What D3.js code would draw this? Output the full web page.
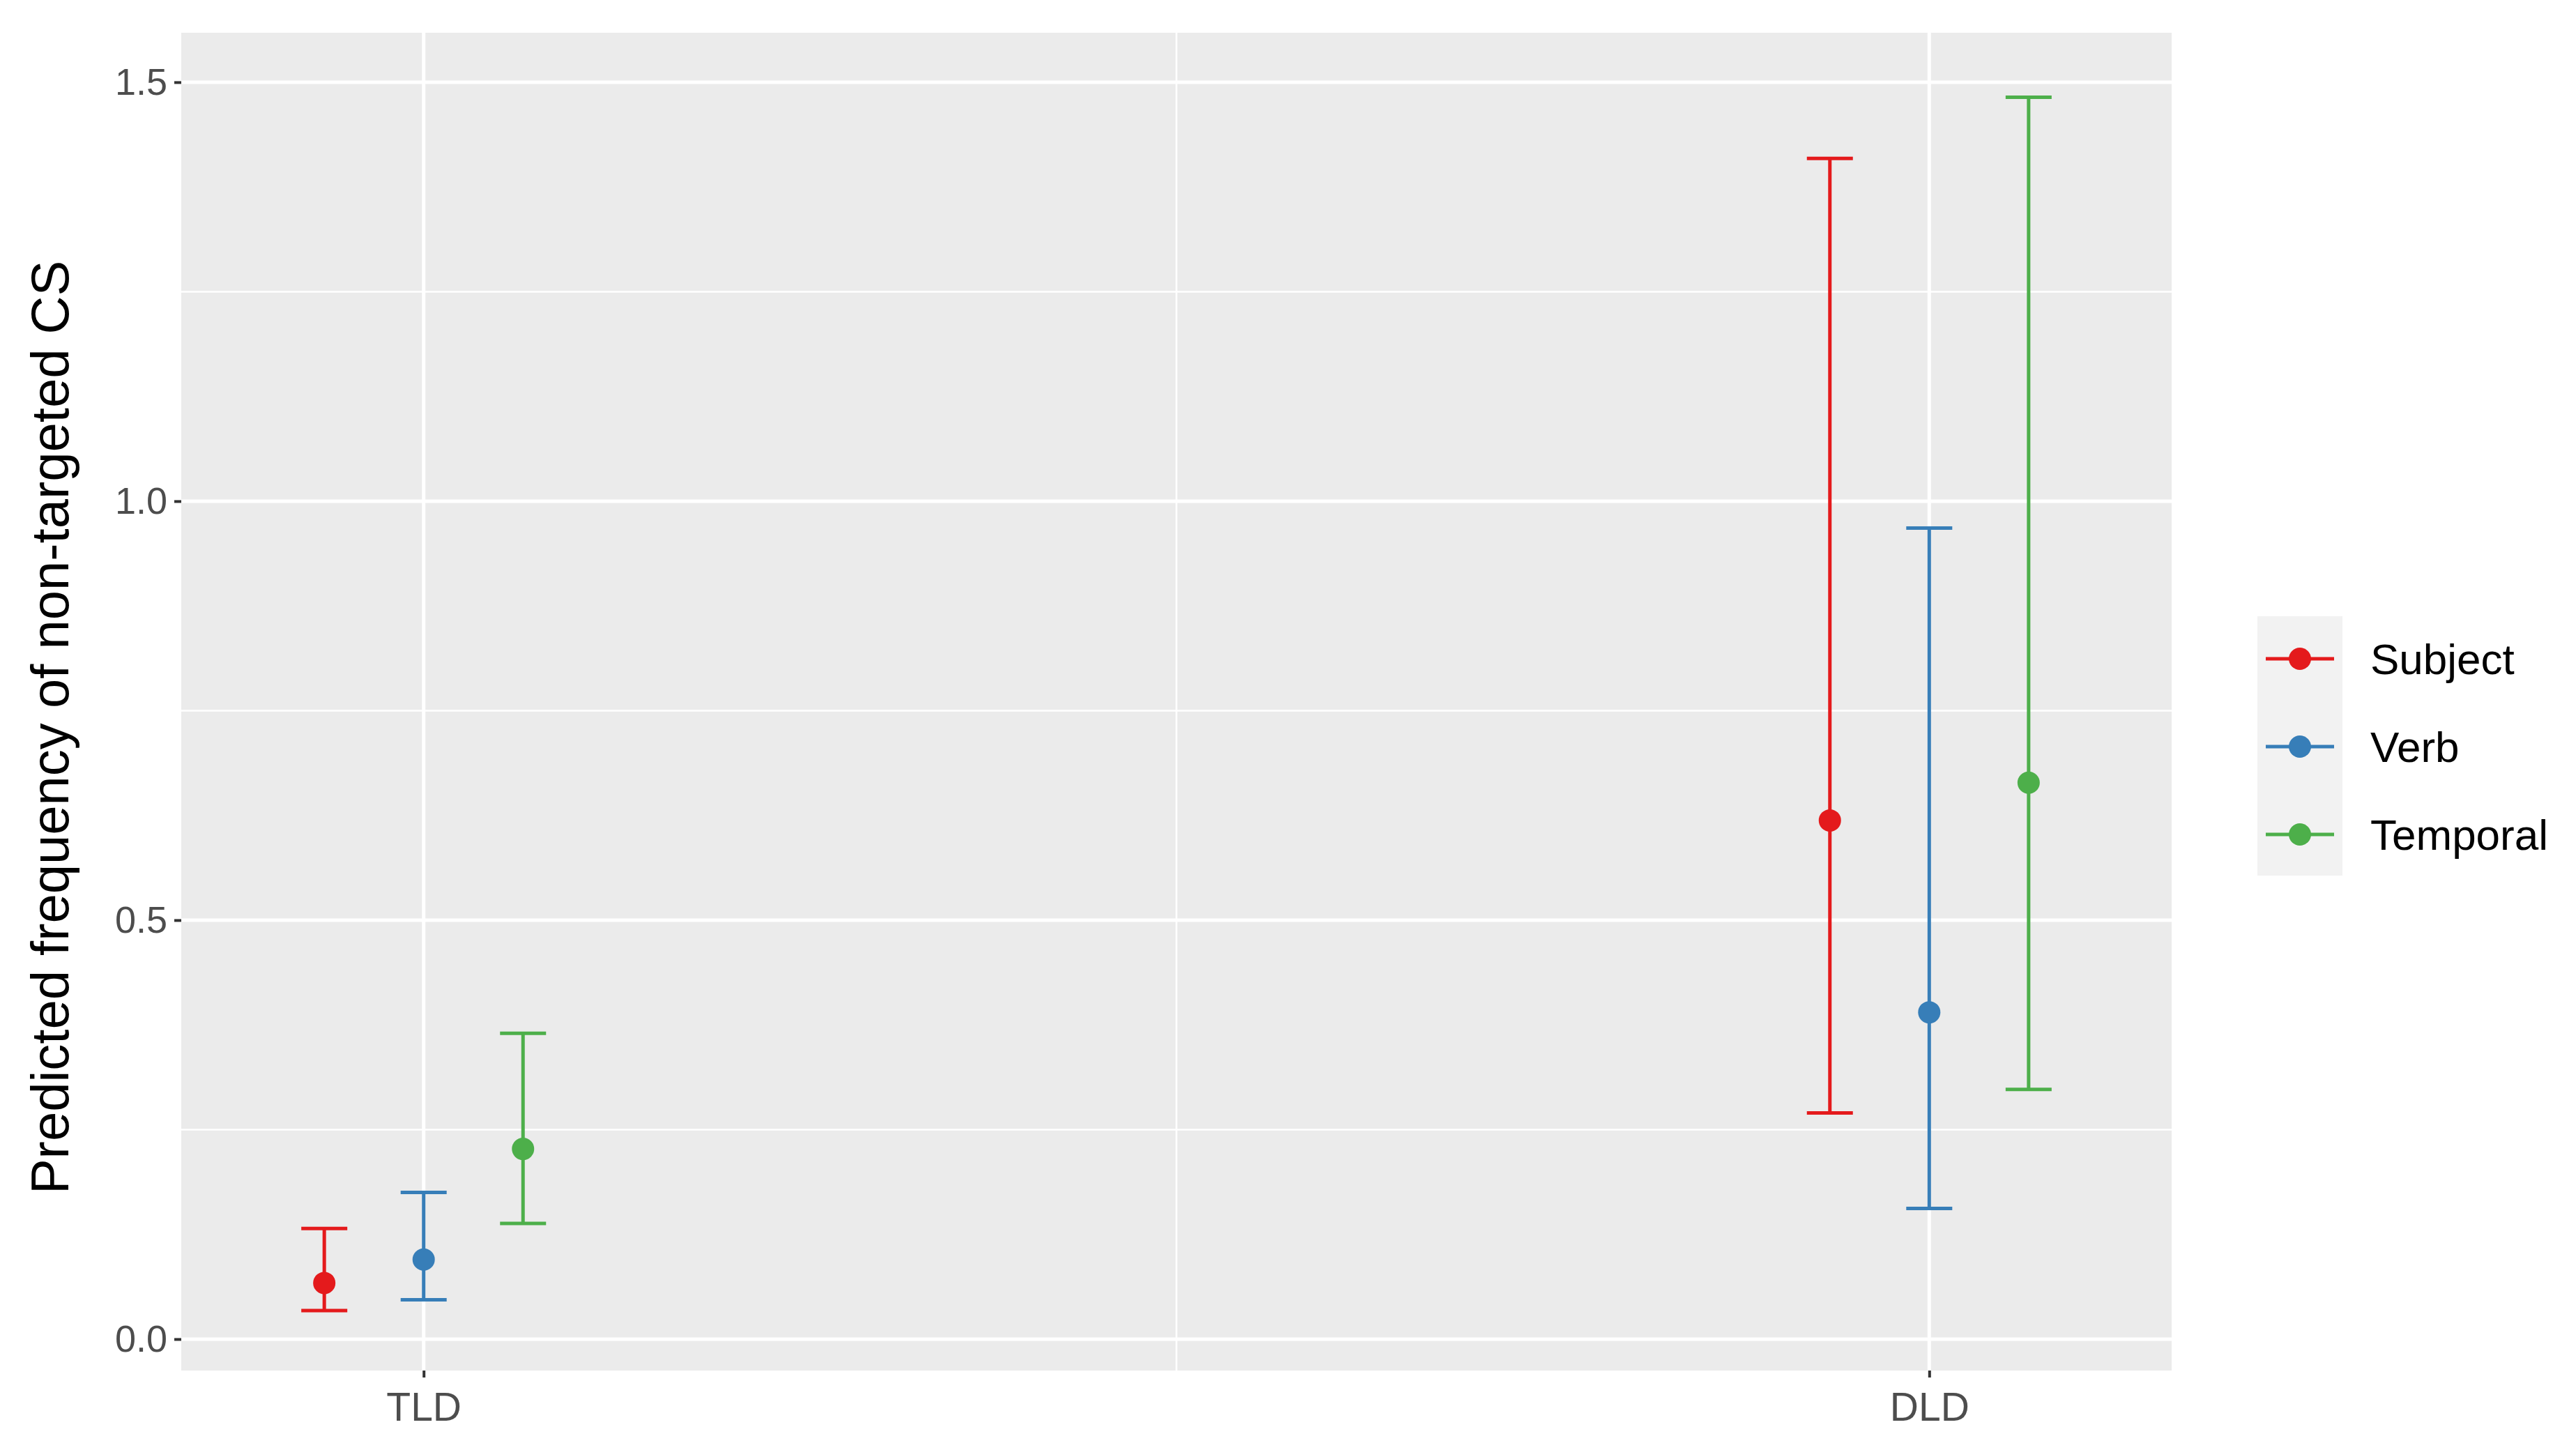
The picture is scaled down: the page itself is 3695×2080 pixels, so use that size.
<!DOCTYPE html>
<html><head><meta charset="utf-8">
<script src="https://cdn.jsdelivr.net/npm/d3@7"></script>
<style>body{margin:0;background:#fff}text{font-family:"Liberation Sans",Arial,sans-serif}</style>
</head><body><div id="chart"></div>
<script>
const groups = ["TLD", "DLD"];
const series = ["Subject", "Verb", "Temporal"];
const colors = ["#E41A1C", "#377EB8", "#4DAF4A"];
// [group][series]
const means = [[0.067, 0.095, 0.227], [0.619, 0.390, 0.664]];
const lowers = [[0.034, 0.047, 0.138], [0.270, 0.156, 0.298]];
const uppers = [[0.132, 0.175, 0.365], [1.409, 0.968, 1.482]];
const yTicks = [0, 0.5, 1.0, 1.5];

const W = 3695, H = 2080;
const panel = {left: 260, right: 3115, top: 47, bottom: 1966};
const svg = d3.select("#chart").append("svg").attr("width", W).attr("height", H);

const x = d3.scaleLinear().domain([0.839, 2.161]).range([panel.left, panel.right]);
const y = d3.scaleLinear().domain([-0.0375, 1.559]).range([panel.bottom, panel.top]);
const dodge = 0.066; // in group units

svg.append("rect").attr("x", panel.left).attr("y", panel.top)
  .attr("width", panel.right - panel.left).attr("height", panel.bottom - panel.top)
  .attr("fill", "#EBEBEB");

// minor grid
const minor = [0.25, 0.75, 1.25];
svg.selectAll(".ymin").data(minor).enter().append("line")
  .attr("x1", panel.left).attr("x2", panel.right)
  .attr("y1", d => y(d)).attr("y2", d => y(d))
  .attr("stroke", "#fff").attr("stroke-width", 2.5);
svg.append("line").attr("x1", x(1.5)).attr("x2", x(1.5))
  .attr("y1", panel.top).attr("y2", panel.bottom)
  .attr("stroke", "#fff").attr("stroke-width", 2.5);
// major grid
svg.selectAll(".ymaj").data(yTicks).enter().append("line")
  .attr("x1", panel.left).attr("x2", panel.right)
  .attr("y1", d => y(d)).attr("y2", d => y(d))
  .attr("stroke", "#fff").attr("stroke-width", 5);
svg.selectAll(".xmaj").data(groups).enter().append("line")
  .attr("x1", (d, i) => x(i + 1)).attr("x2", (d, i) => x(i + 1))
  .attr("y1", panel.top).attr("y2", panel.bottom)
  .attr("stroke", "#fff").attr("stroke-width", 5);

// axes
const yAxis = svg.append("g").attr("transform", `translate(${panel.left},0)`)
  .call(d3.axisLeft(y).tickValues(yTicks).tickFormat(d3.format(".1f")).tickSize(10).tickPadding(10));
const xAxis = svg.append("g").attr("transform", `translate(0,${panel.bottom})`)
  .call(d3.axisBottom(x).tickValues([1, 2]).tickFormat((d, i) => groups[i]).tickSize(10).tickPadding(22));
[yAxis, xAxis].forEach(a => {
  a.select(".domain").remove();
  a.selectAll(".tick line").attr("stroke", "#333").attr("stroke-width", 4);
  a.selectAll(".tick text").attr("fill", "#4D4D4D").style("font-size", "54px")
    .style("font-family", '"Liberation Sans",Arial,sans-serif');
});
xAxis.selectAll(".tick text").style("font-size", "57px");

svg.append("text").attr("transform", `translate(98,${y(0.73)}) rotate(-90)`)
  .attr("text-anchor", "middle").style("font-size", "76px").attr("fill", "#000")
  .text("Predicted frequency of non-targeted CS");

// error bars and points
const capHalf = 33;
const pts = [];
groups.forEach((g, gi) => series.forEach((s, si) => pts.push({gi, si})));
const cx = d => x(d.gi + 1 + (d.si - 1) * dodge);
svg.selectAll(".bar").data(pts).enter().append("g").each(function(d) {
  const g = d3.select(this), c = colors[d.si], px = cx(d);
  const lo = y(lowers[d.gi][d.si]), hi = y(uppers[d.gi][d.si]);
  g.append("line").attr("x1", px).attr("x2", px).attr("y1", lo).attr("y2", hi)
    .attr("stroke", c).attr("stroke-width", 5);
  [lo, hi].forEach(v => g.append("line").attr("x1", px - capHalf).attr("x2", px + capHalf)
    .attr("y1", v).attr("y2", v).attr("stroke", c).attr("stroke-width", 5));
  g.append("circle").attr("cx", px).attr("cy", y(means[d.gi][d.si])).attr("r", 16).attr("fill", c);
});

// legend
svg.append("rect").attr("x", 3238).attr("y", 884).attr("width", 122).attr("height", 372).attr("fill", "#F2F2F2");
const leg = svg.selectAll(".leg").data(series).enter().append("g")
  .attr("transform", (d, i) => `translate(3299,${945 + i * 126})`);
leg.append("line").attr("x1", -49).attr("x2", 49).attr("stroke", (d, i) => colors[i]).attr("stroke-width", 5);
leg.append("circle").attr("r", 16).attr("fill", (d, i) => colors[i]);
leg.append("text").attr("x", 101).attr("dy", "0.35em").style("font-size", "62px").attr("fill", "#000").text(d => d);
</script></body></html>
